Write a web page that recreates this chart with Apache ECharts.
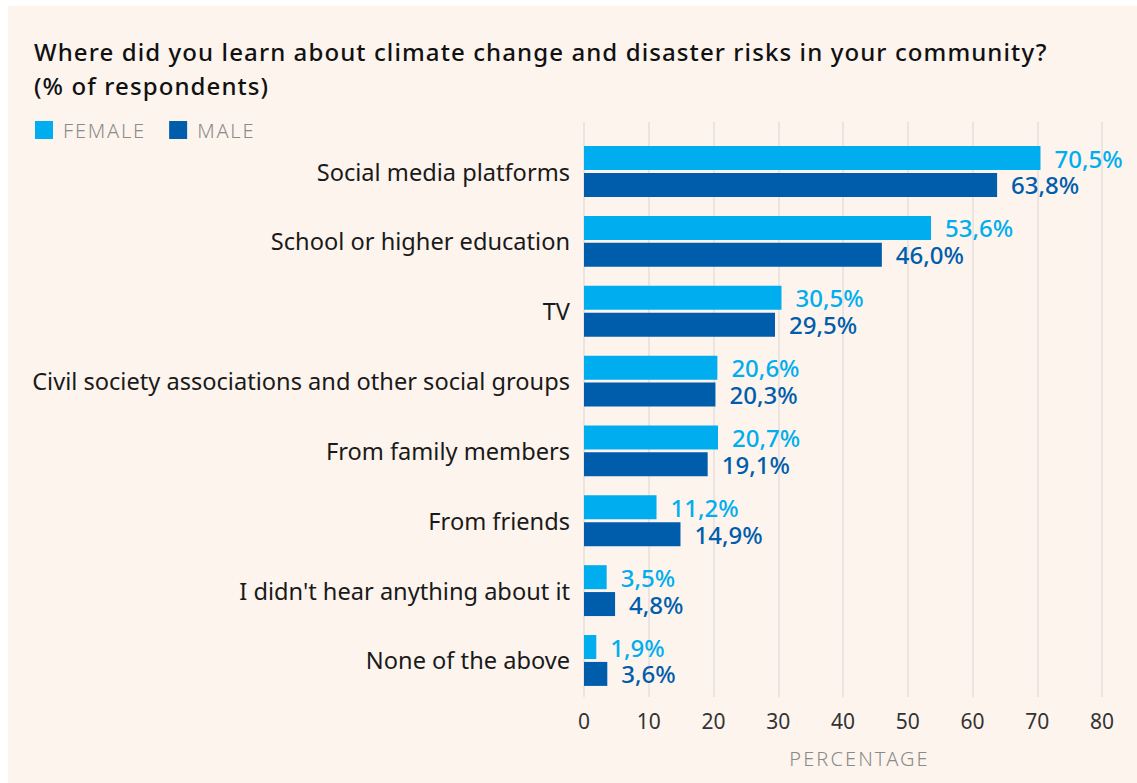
<!DOCTYPE html>
<html>
<head>
<meta charset="utf-8">
<title>Climate change and disaster risks – information sources</title>
<script src="https://cdn.jsdelivr.net/npm/echarts@6/dist/echarts.min.js"></script>
<style>
  html, body { margin: 0; padding: 0; background: #ffffff; }
  #chart { width: 1137px; height: 783px; }
  /* spaced-out caps for the legend and axis name */
  #chart text[fill="#8b8b8b"] { letter-spacing: 1.8px; }
  #chart text[fill="#8a8a8a"] { letter-spacing: 2.1px; }
  /* slightly tracked-out heading */
  #chart text[fill="#111111"] { letter-spacing: 1.1px; }
</style>
</head>
<body>
<div id="chart"></div>
<script>
// Survey answers, top to bottom
const categories = [
  'Social media platforms',
  'School or higher education',
  'TV',
  'Civil society associations and other social groups',
  'From family members',
  'From friends',
  "I didn't hear anything about it",
  'None of the above'
];
// Share of respondents (%)
const female = [70.5, 53.6, 30.5, 20.6, 20.7, 11.2, 3.5, 1.9];
const male   = [63.8, 46.0, 29.5, 20.3, 19.1, 14.9, 4.8, 3.6];
const xTicks = { min: 0, max: 80, step: 10 };

const FEMALE_COLOR = '#00aeef';
const MALE_COLOR = '#005dab';
const FONT = '"Noto Sans", "Open Sans", sans-serif';

const pct = v => v.toFixed(1).replace('.', ',') + '%';

const chart = echarts.init(document.getElementById('chart'), null, { renderer: 'svg' });

const barLabel = color => ({
  show: true,
  position: 'right',
  distance: 14,
  fontFamily: FONT,
  fontSize: 24,
  fontWeight: 500,
  lineHeight: 24,
  color: color,
  formatter: p => pct(p.value)
});

chart.setOption({
  backgroundColor: '#ffffff',
  animation: false,
  textStyle: { fontFamily: FONT },
  graphic: [{
    type: 'rect',
    z: -10,
    silent: true,
    shape: { x: 8, y: 6, width: 1129, height: 777 },
    style: { fill: '#fdf4ee' }
  }],
  title: {
    text: 'Where did you learn about climate change and disaster risks in your community?\n(% of respondents)',
    left: 34,
    top: 34,
    padding: 0,
    textStyle: {
      fontFamily: FONT,
      fontSize: 24,
      fontWeight: 500,
      color: '#111111',
      lineHeight: 34
    }
  },
  legend: {
    left: 35,
    top: 120,
    padding: 0,
    itemWidth: 18,
    itemHeight: 18,
    itemGap: 34,
    icon: 'rect',
    textStyle: {
      fontFamily: FONT,
      fontSize: 20,
      fontWeight: 300,
      color: '#8b8b8b',
      padding: [0, 0, 0, 5]
    },
    data: ['FEMALE', 'MALE']
  },
  grid: [
    // bars
    { left: 584, right: 35, top: 136.6, bottom: 87.6, containLabel: false },
    // vertical grid lines and value axis
    { left: 584, right: 35, top: 122, bottom: 86, containLabel: false }
  ],
  xAxis: [
    {
      gridIndex: 0, type: 'value', min: xTicks.min, max: xTicks.max, interval: xTicks.step,
      show: false
    },
    {
      gridIndex: 1, type: 'value', min: xTicks.min, max: xTicks.max, interval: xTicks.step,
      axisLine: { show: false },
      axisTick: { show: false },
      splitLine: { show: true, lineStyle: { color: '#e4dfdb', width: 1.5 } },
      axisLabel: { margin: 13, fontFamily: FONT, fontSize: 21, color: '#333333' },
      name: 'PERCENTAGE',
      nameLocation: 'middle',
      nameGap: 51,
      nameTextStyle: {
        fontFamily: FONT, fontSize: 20, fontWeight: 300, color: '#8a8a8a',
        padding: [0, 0, 0, 33]
      }
    }
  ],
  yAxis: [
    {
      gridIndex: 0, type: 'category', data: categories, inverse: true,
      axisLine: { show: false },
      axisTick: { show: false },
      splitLine: { show: false },
      axisLabel: { margin: 14, fontFamily: FONT, fontSize: 23.6, color: '#1a1a1a', lineHeight: 26 }
    },
    { gridIndex: 1, type: 'value', show: false, min: 0, max: 1 }
  ],
  series: [
    {
      name: 'FEMALE', type: 'bar', xAxisIndex: 0, yAxisIndex: 0,
      data: female, barWidth: 24, barGap: '12%',
      itemStyle: { color: FEMALE_COLOR },
      label: barLabel(FEMALE_COLOR)
    },
    {
      name: 'MALE', type: 'bar', xAxisIndex: 0, yAxisIndex: 0,
      data: male, barWidth: 24, barGap: '12%',
      itemStyle: { color: MALE_COLOR },
      label: barLabel(MALE_COLOR)
    }
  ]
});
</script>
</body>
</html>
